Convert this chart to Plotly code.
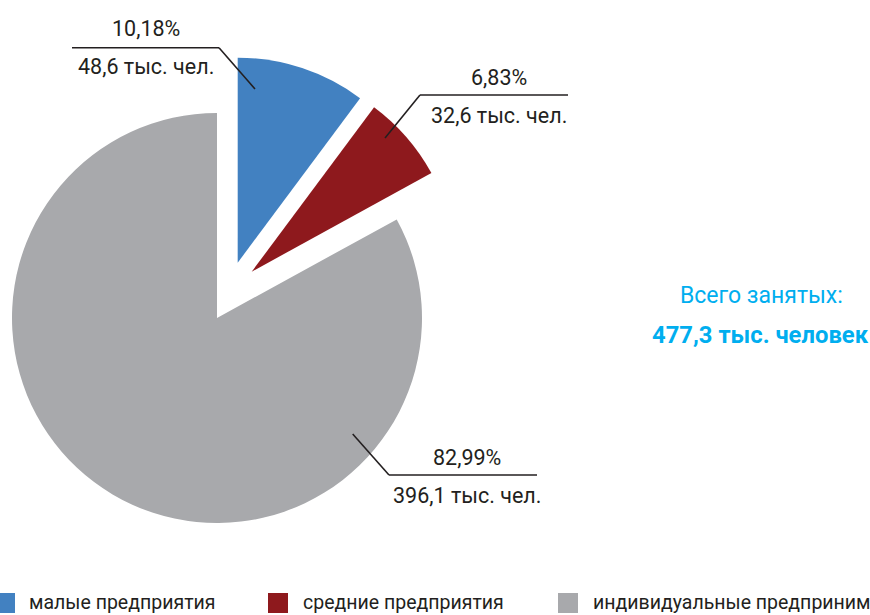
import plotly.graph_objects as go

W, H = 870, 615

labels = ["малые предприятия", "средние предприятия", "индивидуальные предприниматели"]
values = [48.6, 32.6, 396.1]          # тыс. чел.
shares = ["10,18%", "6,83%", "82,99%"]
counts = ["48,6 тыс. чел.", "32,6 тыс. чел.", "396,1 тыс. чел."]
colors = ["#4281C1", "#8E191D", "#A8A9AC"]
total_line1 = "Всего занятых:"
total_line2 = "477,3 тыс. человек"

FONT = "Roboto, Liberation Sans, sans-serif"
TXT = "#231F20"

# pixel geometry
R = 205
cx, cy = 217, 318
offsets = [(20.7, -55.3), (34.7, -46.3), (0, 0)]  # exploded-slice shifts (px)

fig = go.Figure()

def dom(dx, dy):
    x0 = (cx + dx - R) / W
    x1 = (cx + dx + R) / W
    y0 = 1 - (cy + dy + R) / H
    y1 = 1 - (cy + dy - R) / H
    return dict(x=[x0, x1], y=[y0, y1])

for i in range(3):
    cols = ["rgba(0,0,0,0)"] * 3
    cols[i] = colors[i]
    fig.add_trace(go.Pie(
        labels=labels, values=values, sort=False, direction="clockwise",
        rotation=0, marker=dict(colors=cols, line=dict(width=0)),
        textinfo="none", hoverinfo="skip", showlegend=False,
        domain=dom(*offsets[i]),
    ))

# leader dots
dots_x = [255, 385, 352.7]
dots_y = [89, 138, 434]
fig.add_trace(go.Scatter(x=dots_x, y=dots_y, mode="markers",
                         marker=dict(size=10, color=TXT), hoverinfo="skip",
                         showlegend=False))

# leader lines: dot -> elbow -> end of horizontal rule
elbows = [(219, 47.7), (420, 95), (389, 475)]
rule_end = [72, 568, 537]
for i in range(3):
    ex, ey = elbows[i]
    fig.add_shape(type="line", x0=dots_x[i], y0=dots_y[i], x1=ex, y1=ey,
                  line=dict(color=TXT, width=1.6), xref="x", yref="y")
    fig.add_shape(type="line", x0=ex, y0=ey, x1=rule_end[i], y1=ey,
                  line=dict(color=TXT, width=1.6), xref="x", yref="y")

# label texts
lab_x = [146, 499, 467]
top_y = [28, 77, 457]
bot_y = [66, 115, 495]
for i in range(3):
    fig.add_annotation(x=lab_x[i], y=top_y[i], text=shares[i], showarrow=False,
                       xref="x", yref="y", font=dict(family=FONT, size=21.5, color=TXT))
    fig.add_annotation(x=lab_x[i], y=bot_y[i], text=counts[i], showarrow=False,
                       xref="x", yref="y", font=dict(family=FONT, size=21.5, color=TXT))

# total
fig.add_annotation(x=761.5, y=295, text=total_line1, showarrow=False, xref="x", yref="y",
                   font=dict(family=FONT, size=23, color="#00AEEF"))
fig.add_annotation(x=760.5, y=335, text="<b>" + total_line2 + "</b>", showarrow=False,
                   xref="x", yref="y", font=dict(family=FONT, size=23.8, color="#00AEEF"))

# legend (manual, clipped at right edge like the original)
leg_sq = [-5, 268, 558]
leg_tx = [27, 301, 591]
for i in range(3):
    fig.add_shape(type="rect", x0=leg_sq[i], x1=leg_sq[i] + 20, y0=593, y1=613,
                  fillcolor=colors[i], line=dict(width=0), xref="x", yref="y")
    fig.add_annotation(x=leg_tx[i], y=602, text=labels[i], showarrow=False,
                       xanchor="left", xref="x", yref="y",
                       font=dict(family=FONT, size=19.5, color=TXT))

fig.update_layout(
    width=W, height=H, margin=dict(l=0, r=0, t=0, b=0),
    paper_bgcolor="white", plot_bgcolor="white",
    xaxis=dict(range=[0, W], visible=False, fixedrange=True, domain=[0, 1]),
    yaxis=dict(range=[H, 0], visible=False, fixedrange=True, domain=[0, 1]),
    showlegend=False,
)

fig.write_html("out.html", config={"displayModeBar": False},
               post_script="document.body.style.margin='0px';document.body.style.overflow='hidden';")
